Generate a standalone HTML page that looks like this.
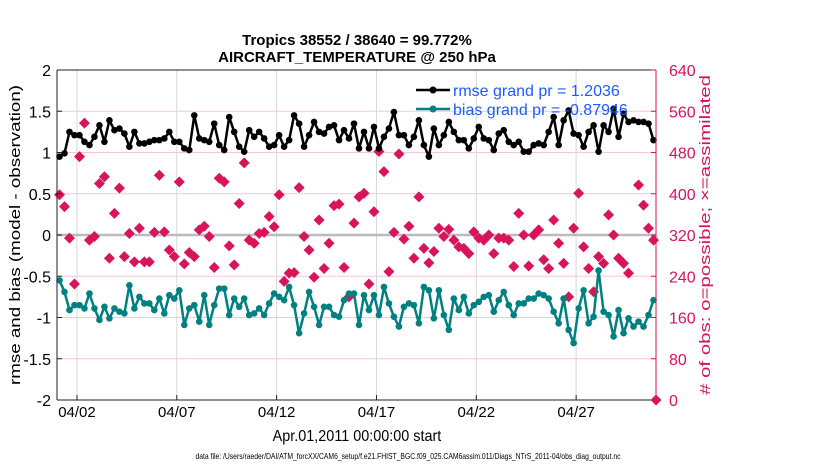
<!DOCTYPE html>
<html><head><meta charset="utf-8"><style>
body{margin:0;background:#fff;width:830px;height:470px;overflow:hidden;font-family:"Liberation Sans",sans-serif}
</style></head><body>
<svg id="chart" width="830" height="470" xmlns="http://www.w3.org/2000/svg" font-family="Liberation Sans, sans-serif">
<g id="grid"></g>
<g id="plot"></g>
<g id="axes"></g>
<text x="357" y="45" font-size="15" font-weight="bold" text-anchor="middle">Tropics 38552 / 38640 = 99.772%</text>
<text x="357" y="62" font-size="15" font-weight="bold" text-anchor="middle">AIRCRAFT_TEMPERATURE @ 250 hPa</text>
<text x="357" y="441" font-size="16" text-anchor="middle" transform="translate(357,0) scale(0.9,1) translate(-357,0)">Apr.01,2011 00:00:00 start</text>
<text font-size="15" text-anchor="middle" textLength="300" lengthAdjust="spacingAndGlyphs" transform="translate(20,235) rotate(-90)">rmse and bias (model - observation)</text>
<text font-size="15" fill="#d6145a" text-anchor="middle" textLength="320" lengthAdjust="spacingAndGlyphs" transform="translate(710,235) rotate(-90)"># of obs: o=possible; ×=assimilated</text>
<text x="408" y="459" font-size="8" text-anchor="middle" transform="translate(408,0) scale(0.85,1) translate(-408,0)">data file: /Users/raeder/DAI/ATM_forcXX/CAM6_setup/f.e21.FHIST_BGC.f09_025.CAM6assim.011/Diags_NTrS_2011-04/obs_diag_output.nc</text>
<g>
<line x1="416" y1="90" x2="450" y2="90" stroke="#000" stroke-width="2.5"/><circle cx="433" cy="90" r="3.5" fill="#000"/>
<text x="453" y="96" font-size="16" fill="#1a5cff">rmse grand pr = 1.2036</text>
<line x1="416" y1="109" x2="450" y2="109" stroke="#008080" stroke-width="2.5"/><circle cx="433" cy="109" r="3.5" fill="#008080"/>
<text x="453" y="115" font-size="16" fill="#1a5cff">bias grand pr = -0.87946</text>
</g>
</svg>
<script>
const tickDays=[1,6,11,16,21,26];
const tickLabels=["04/02","04/07","04/12","04/17","04/22","04/27"];
const leftTicks=[-2,-1.5,-1,-0.5,0,0.5,1,1.5,2];
const rightTicks=[0,80,160,240,320,400,480,560,640];
const rmse=[0.95,0.99,1.25,1.21,1.21,1.13,1.09,1.19,1.33,1.13,1.39,1.27,1.29,1.23,1.07,1.25,1.11,1.11,1.13,1.15,1.15,1.17,1.25,1.13,1.13,1.05,1.03,1.45,1.17,1.15,1.13,1.35,1.09,1.03,1.43,1.25,1.07,1.01,1.27,1.19,1.25,
1.17,1.07,1.09,1.21,1.07,1.15,1.45,1.35,1.07,1.21,1.37,1.25,1.23,1.31,1.33,1.15,1.27,1.17,1.35,1.05,1.25,1.05,1.31,1.05,1.19,1.29,1.49,1.21,1.21,1.09,1.19,1.39,1.09,0.95,1.29,1.09,1.21,1.37,1.25,1.15,
1.15,1.05,1.17,1.31,1.17,1.15,1.03,1.23,1.27,1.13,1.09,1.13,1.01,1.01,1.09,1.11,1.09,1.25,1.43,1.09,1.39,1.51,1.23,1.21,1.07,1.25,1.33,1.01,1.33,1.25,1.53,1.19,1.47,1.37,1.39,1.37,1.37,1.35,1.15];
const bias=[-0.55,-0.69,-0.91,-0.85,-0.85,-0.89,-0.71,-0.89,-1.03,-0.87,-1.01,-0.89,-0.93,-0.95,-0.61,-0.89,-0.75,-0.83,-0.83,-0.91,-0.77,-0.95,-0.73,-0.77,-0.67,-1.09,-0.89,-0.85,-1.05,-0.73,-1.09,-0.85,-0.65,-0.65,-0.97,-0.77,-0.87,-0.77,-0.97,-0.95,-0.89,
-0.97,-0.83,-0.71,-0.75,-0.79,-0.63,-0.85,-1.19,-0.95,-0.69,-0.87,-1.09,-0.87,-0.87,-0.97,-0.99,-0.79,-0.71,-0.71,-1.09,-0.73,-0.91,-0.73,-0.97,-0.63,-0.83,-0.99,-1.11,-0.87,-0.83,-0.85,-1.07,-0.63,-0.67,-1.01,-0.67,-0.97,-1.15,-0.77,-0.91,
-0.75,-0.95,-0.85,-0.81,-0.75,-0.73,-0.93,-0.79,-0.69,-0.85,-0.97,-0.83,-0.83,-0.77,-0.77,-0.71,-0.73,-0.77,-0.93,-1.07,-0.77,-1.15,-1.31,-0.89,-0.67,-1.07,-0.99,-0.43,-0.93,-0.97,-1.23,-0.91,-1.19,-1.01,-1.11,-1.05,-1.11,-0.97,-0.79];
const nAssim=[398,375,314,225,472,537,310,317,420,433,275,362,411,278,323,268,333,268,268,325,436,326,291,278,423,264,286,278,330,337,317,257,430,423,299,262,381,460,310,304,323,
325,356,336,398,230,246,247,412,317,291,238,349,255,304,377,380,257,200,343,394,401,225,365,482,443,249,325,477,312,337,275,394,294,266,288,333,317,331,310,297,
294,284,326,314,310,320,284,314,314,310,259,362,320,260,320,330,272,255,349,304,265,200,333,401,297,255,210,278,265,359,320,275,265,246,null,417,378,333,310];
const X0=57,X1=656,Y0=70,Y1=400;
const xs=d=>X0+(d/30)*(X1-X0);
const yl=v=>Y1-(v+2)/4*(Y1-Y0);
const yr=v=>Y1-v/640*(Y1-Y0);
const tOf=i=>0.125+i*0.25;
const NS="http://www.w3.org/2000/svg";
function mk(tag,attrs,parent){const e=document.createElementNS(NS,tag);for(const k in attrs)e.setAttribute(k,attrs[k]);parent.appendChild(e);return e;}
const grid=document.getElementById('grid'),plot=document.getElementById('plot'),axes=document.getElementById('axes');
rightTicks.forEach(v=>{const l=mk('line',{x1:X0,x2:X1,y1:yr(v),y2:yr(v),stroke:'#f2c8d6','stroke-width':1},grid);

});
tickDays.forEach((d,i)=>{const l=mk('line',{x1:xs(d),x2:xs(d),y1:Y0,y2:Y1,stroke:'#d8d8d8','stroke-width':1},grid);


const t=mk('text',{x:xs(d),y:417,'font-size':15,'text-anchor':'middle'},axes);t.textContent=tickLabels[i];


mk('line',{x1:xs(d),x2:xs(d),y1:Y1,y2:Y1-5,stroke:'#222'},axes);});
const zl=mk('line',{x1:X0,x2:X1,y1:yl(0),y2:yl(0),stroke:'#bbb','stroke-width':2.5},grid);


nAssim.forEach((v,i)=>{if(v===null)return;const x=xs(tOf(i)),y=yr(v);
const p=mk('path',{d:`M${x} ${y-5.5}L${x+5.5} ${y}L${x} ${y+5.5}L${x-5.5} ${y}Z`,fill:'#d8145a'},plot);

});
function series(arr,color,name){
const pts=arr.map((v,i)=>xs(tOf(i)).toFixed(1)+','+yl(v).toFixed(1)).join(' ');
const pl=mk('polyline',{points:pts,fill:'none',stroke:color,'stroke-width':2.5,'stroke-linejoin':'round'},plot);


arr.forEach((v,i)=>{const c=mk('circle',{cx:xs(tOf(i)),cy:yl(v),r:3.3,fill:color},plot);

});}
series(bias,'#008080','bias');
series(rmse,'#000','rmse');
const zp=mk('path',{d:`M${X1} ${Y1-5.5}L${X1+5.5} ${Y1}L${X1} ${Y1+5.5}L${X1-5.5} ${Y1}Z`,fill:'#d8145a'},plot);


mk('line',{x1:X0,x2:X0,y1:Y0,y2:Y1,stroke:'#222'},axes);
mk('line',{x1:X0,x2:X1,y1:Y1,y2:Y1,stroke:'#222'},axes);
mk('line',{x1:X0,x2:X1,y1:Y0,y2:Y0,stroke:'#222'},axes);
mk('line',{x1:X1,x2:X1,y1:Y0,y2:Y1,stroke:'#d6145a'},axes);
leftTicks.forEach(v=>{const t=mk('text',{x:X0-6,y:yl(v)+6,'font-size':16,'text-anchor':'end'},axes);t.textContent=String(v);


mk('line',{x1:X0,x2:X0+5,y1:yl(v),y2:yl(v),stroke:'#222'},axes);});
rightTicks.forEach(v=>{const t=mk('text',{x:X1+13,y:yr(v)+6,'font-size':16,fill:'#d6145a'},axes);t.textContent=String(v);


mk('line',{x1:X1,x2:X1-5,y1:yr(v),y2:yr(v),stroke:'#d6145a'},axes);});
</script>
</body></html>
